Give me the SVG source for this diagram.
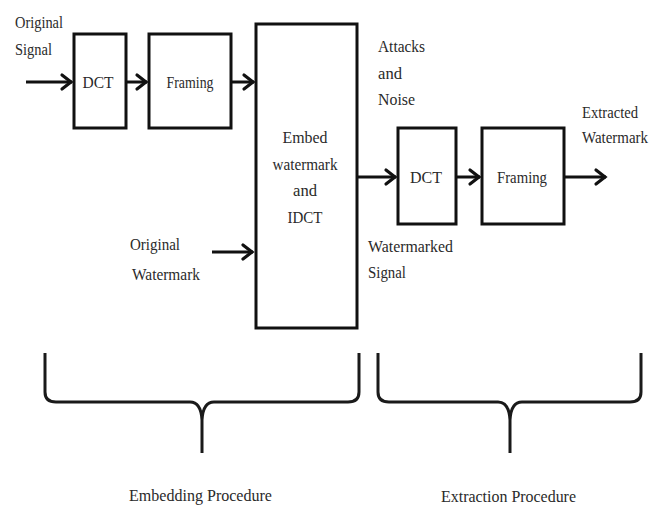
<svg xmlns="http://www.w3.org/2000/svg" width="658" height="508" viewBox="0 0 658 508">
<style>
.box{fill:#fff;stroke:#111;stroke-width:3}
.ln{fill:none;stroke:#111;stroke-width:3}
.br{fill:none;stroke:#1a1a1a;stroke-width:3;stroke-linejoin:round}
text{font-family:"Liberation Serif","Times New Roman",serif;font-size:17px;fill:#2a2a2a}
.c{text-anchor:middle}
</style>
<defs>
<marker id="ah" markerUnits="userSpaceOnUse" markerWidth="16" markerHeight="20" viewBox="-12 -9 16 18" refX="1" refY="0" orient="auto">
<polyline points="-9,-7 0,0 -9,7" fill="none" stroke="#111" stroke-width="3.2" stroke-linecap="round" stroke-linejoin="miter"/>
</marker>
</defs>
<rect width="658" height="508" fill="#fff"/>
<g id="connectors">
<line class="ln" x1="26" y1="82" x2="72" y2="82" marker-end="url(#ah)"/>
<line class="ln" x1="126" y1="82" x2="147" y2="82" marker-end="url(#ah)"/>
<line class="ln" x1="231" y1="82" x2="254" y2="82" marker-end="url(#ah)"/>
<line class="ln" x1="212" y1="252" x2="253" y2="252" marker-end="url(#ah)"/>
<line class="ln" x1="357" y1="177" x2="396" y2="177" marker-end="url(#ah)"/>
<line class="ln" x1="456" y1="177" x2="480" y2="177" marker-end="url(#ah)"/>
<line class="ln" x1="564" y1="177" x2="606" y2="177" marker-end="url(#ah)"/>
</g>
<g id="dct1"><rect class="box" x="74" y="34" width="52" height="94"/><text class="c" x="98" y="88" textLength="31" lengthAdjust="spacingAndGlyphs">DCT</text></g>
<g id="framing1"><rect class="box" x="149" y="34" width="82" height="94"/><text class="c" x="190" y="88" textLength="47" lengthAdjust="spacingAndGlyphs">Framing</text></g>
<g id="embed"><rect class="box" x="256" y="24" width="101" height="304"/>
<text class="c" x="305" y="143" textLength="45" lengthAdjust="spacingAndGlyphs">Embed</text>
<text class="c" x="305" y="170" textLength="65" lengthAdjust="spacingAndGlyphs">watermark</text>
<text class="c" x="305" y="196" textLength="24" lengthAdjust="spacingAndGlyphs">and</text>
<text class="c" x="305" y="223" textLength="35" lengthAdjust="spacingAndGlyphs">IDCT</text></g>
<g id="dct2"><rect class="box" x="398" y="128" width="58" height="96"/><text class="c" x="426" y="183" textLength="32" lengthAdjust="spacingAndGlyphs">DCT</text></g>
<g id="framing2"><rect class="box" x="482" y="128" width="82" height="96"/><text class="c" x="522" y="183" textLength="50" lengthAdjust="spacingAndGlyphs">Framing</text></g>
<g id="labels">
<text x="15" y="28" textLength="48" lengthAdjust="spacingAndGlyphs">Original</text>
<text x="15" y="55" textLength="37" lengthAdjust="spacingAndGlyphs">Signal</text>
<text x="130" y="250" textLength="50" lengthAdjust="spacingAndGlyphs">Original</text>
<text x="132" y="280" textLength="68" lengthAdjust="spacingAndGlyphs">Watermark</text>
<text x="378" y="52" textLength="47" lengthAdjust="spacingAndGlyphs">Attacks</text>
<text x="378" y="79" textLength="24" lengthAdjust="spacingAndGlyphs">and</text>
<text x="378" y="105" textLength="37" lengthAdjust="spacingAndGlyphs">Noise</text>
<text x="582" y="118" textLength="56" lengthAdjust="spacingAndGlyphs">Extracted</text>
<text x="582" y="143" textLength="66" lengthAdjust="spacingAndGlyphs">Watermark</text>
<text x="368" y="252" textLength="85" lengthAdjust="spacingAndGlyphs">Watermarked</text>
<text x="368" y="278" textLength="38" lengthAdjust="spacingAndGlyphs">Signal</text>
<text x="129" y="501" textLength="143" lengthAdjust="spacingAndGlyphs">Embedding  Procedure</text>
<text x="441" y="502" textLength="135" lengthAdjust="spacingAndGlyphs">Extraction  Procedure</text>
</g>
<g id="braces">
<path class="br" d="M45,353 V392 Q45,402 56,402 H190 Q201,402 202,420 V453 M202,420 Q203,402 214,402 H348 Q359,402 359,392 V353"/>
<path class="br" d="M378,353 V392 Q378,402 389,402 H498 Q509,402 510,420 V453 M510,420 Q511,402 522,402 H630 Q641,402 641,392 V353"/>
</g>
</svg>
